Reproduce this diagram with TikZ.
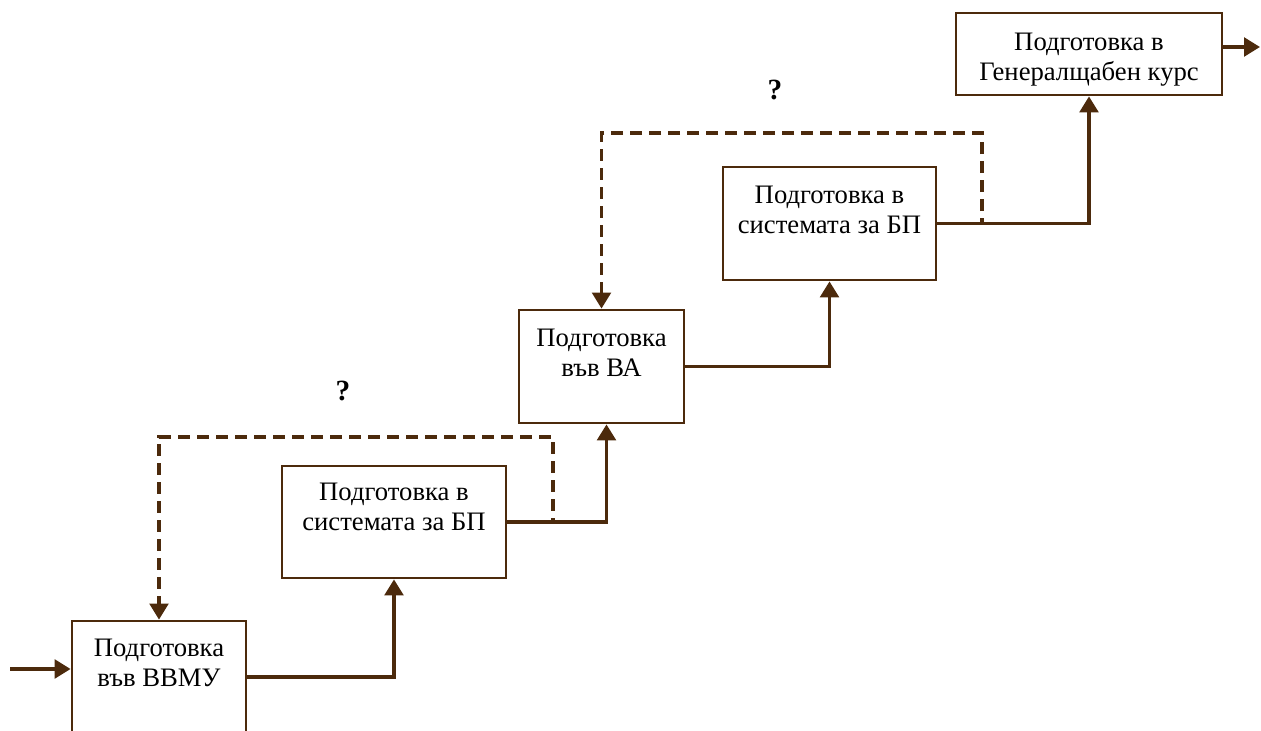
\documentclass[tikz,border=0pt]{standalone}
\usepackage{fontspec}
\setmainfont{Liberation Serif}
\usetikzlibrary{arrows.meta,calc}
\definecolor{brn}{RGB}{76,42,12}
\begin{document}
\begin{tikzpicture}[x=0.75pt,y=-0.75pt,line join=miter,
  box/.style={draw=brn,line width=2.1pt,inner sep=0pt},
  lbl/.style={align=center,inner sep=0pt,font=\fontsize{20}{22.5}\selectfont},
  flow/.style={draw=brn,line width=2.6pt,-{Triangle[length=12pt,width=14pt]}},
  back/.style={draw=brn,line width=2.4pt,dash pattern=on 9pt off 5.25pt,-{Triangle[length=12pt,width=14pt]}},
  qmark/.style={inner sep=0pt,font=\fontsize{22}{26}\selectfont\bfseries}]
\useasboundingbox (0,0) rectangle (1261,731);

% stages of the training path
\node[box,minimum width=130.5pt,minimum height=93pt]    (B1) at (159,683)    {};
\node[box,minimum width=168pt,minimum height=84pt]      (B2) at (394,522)    {};
\node[box,minimum width=123.75pt,minimum height=84.75pt](B3) at (601.5,366.5){};
\node[box,minimum width=159.75pt,minimum height=84.75pt](B4) at (829.5,223.5){};
\node[box,minimum width=199.5pt,minimum height=61.5pt]  (B5) at (1089,54)    {};

\node[lbl] (t1) at (159,665.5)  {\strut Подготовка\\\strut във ВВМУ};
\node[lbl] (t2) at (394,509.5)  {\strut Подготовка в\\\strut системата за БП};
\node[lbl] (t3) at (601.5,355)  {\strut Подготовка\\\strut във ВА};
\node[lbl] (t4) at (829.5,212.5){\strut Подготовка в\\\strut системата за БП};
\node[lbl] (t5) at (1089,60)    {\strut Подготовка в\\\strut Генералщабен\ курс};

\node[qmark] (q1) at (343,391) {?};
\node[qmark] (q2) at (775,90)  {?};

% helper points for the free ends and bends
\coordinate (in0) at (10,669);
\coordinate (o1) at (246,677);
\coordinate (o5) at (1222,47);
\coordinate (out5) at (1260,47);
\coordinate (d1) at (553,437);
\coordinate (d2) at (982,133);
\coordinate (up3) at ($(B3.south)+(5,0)$);

% dashed feedback loops
\draw[back] (B2.east) -| (d1) -| (B1.north);
\draw[back] (B4.east) -| (d2) -| (B3.north);

% main flow
\draw[flow] (in0) -- (in0 -| B1.west);
\draw[flow] (o1) -| (B2.south);
\draw[flow] (B2.east) -| (up3);
\draw[flow] (B3.east) -| (B4.south);
\draw[flow] (B4.east) -| (B5.south);
\draw[flow] (o5) -- (out5);
\end{tikzpicture}
\end{document}
